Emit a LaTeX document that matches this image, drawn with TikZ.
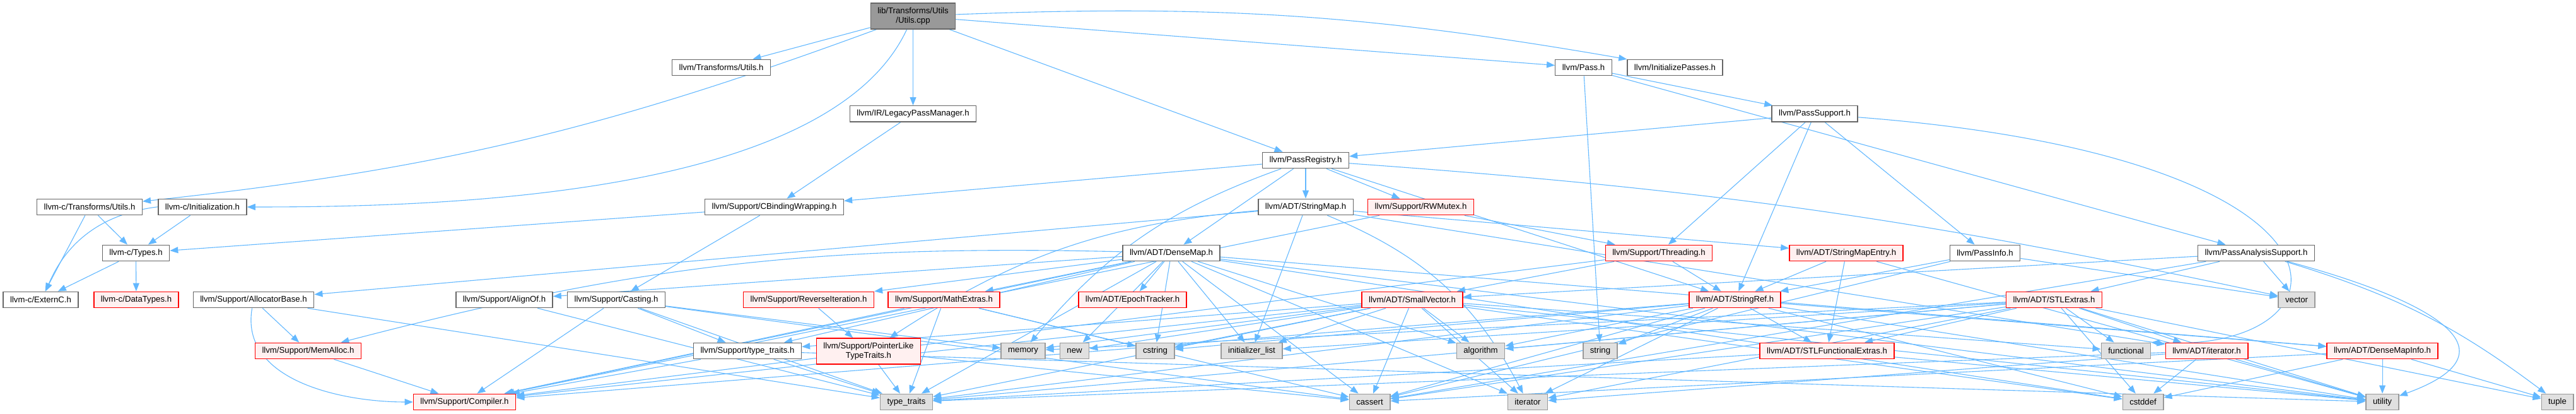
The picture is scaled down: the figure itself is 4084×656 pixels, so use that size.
\documentclass[tikz,border=0pt]{standalone}
\usepackage{fontspec}
\setmainfont{Liberation Sans}
\usetikzlibrary{arrows.meta,backgrounds}
\definecolor{link}{HTML}{63B8FF}
\definecolor{frame}{HTML}{666666}
\definecolor{redline}{HTML}{FF0000}
\definecolor{redfill}{HTML}{FFF0F0}
\definecolor{sysline}{HTML}{999999}
\definecolor{sysfill}{HTML}{E0E0E0}
\definecolor{rootfill}{HTML}{999999}
\tikzset{
  box/.style={draw=frame, line width=0.7pt, fill=white, align=center, inner xsep=5.5pt, inner ysep=2pt, minimum height=12.7pt, font=\fontsize{6.6}{7.5}\selectfont},
  redbox/.style={box, draw=redline, fill=redfill},
  sysbox/.style={box, draw=sysline, fill=sysfill},
  rootbox/.style={box, fill=rootfill, minimum height=20.5pt},
  arrow/.style={-{Triangle[length=6.5pt,width=5pt]}, line width=0.55pt, draw=link}
}
\begin{document}
\begin{tikzpicture}[x=0.5pt,y=0.5pt]
\useasboundingbox (0,0) rectangle (4084,-656);
\node[rootbox] (root) at (1447.5,-25.5) {lib/Transforms/Utils\\/Utils.cpp};
\node[box] (tuh) at (1143.5,-107) {llvm/Transforms/Utils.h};
\node[box] (pass) at (2510.5,-107) {llvm/Pass.h};
\node[box] (initp) at (2655.5,-107) {llvm/InitializePasses.h};
\node[box] (lpm) at (1447.5,-180.5) {llvm/IR/LegacyPassManager.h};
\node[box] (psup) at (2877,-180.5) {llvm/PassSupport.h};
\node[box] (preg) at (2070,-254) {llvm/PassRegistry.h};
\node[box] (ctu) at (142,-328) {llvm-c/Transforms/Utils.h};
\node[box] (cinit) at (321,-328) {llvm-c/Initialization.h};
\node[box] (cbw) at (1227.5,-328) {llvm/Support/CBindingWrapping.h};
\node[box] (smap) at (2070,-328) {llvm/ADT/StringMap.h};
\node[redbox] (rwm) at (2252.5,-328) {llvm/Support/RWMutex.h};
\node[box] (ctypes) at (215.5,-401) {llvm-c/Types.h};
\node[box] (dmap) at (1857,-401) {llvm/ADT/DenseMap.h};
\node[redbox] (thr) at (2630,-401) {llvm/Support/Threading.h};
\node[redbox] (sme) at (2927,-401) {llvm/ADT/StringMapEntry.h};
\node[box] (pinfo) at (3147,-401) {llvm/PassInfo.h};
\node[box] (pas) at (3577,-401) {llvm/PassAnalysisSupport.h};
\node[box] (extc) at (64.5,-475) {llvm-c/ExternC.h};
\node[redbox] (dtypes) at (216,-475) {llvm-c/DataTypes.h};
\node[box] (alloc) at (402,-475) {llvm/Support/AllocatorBase.h};
\node[box] (align) at (799.5,-475) {llvm/Support/AlignOf.h};
\node[box] (cast) at (977,-475) {llvm/Support/Casting.h};
\node[redbox] (rev) at (1282,-475) {llvm/Support/ReverseIteration.h};
\node[redbox] (mathx) at (1496.5,-475) {llvm/Support/MathExtras.h};
\node[redbox] (epoch) at (1795.5,-475) {llvm/ADT/EpochTracker.h};
\node[redbox] (svec) at (2239,-475) {llvm/ADT/SmallVector.h};
\node[redbox] (sref) at (2750.5,-475) {llvm/ADT/StringRef.h};
\node[redbox] (stlx) at (3256.5,-475) {llvm/ADT/STLExtras.h};
\node[sysbox] (vec) at (3641,-475) {vector};
\node[redbox] (memal) at (488.5,-556) {llvm/Support/MemAlloc.h};
\node[box] (tt) at (1185,-556) {llvm/Support/type\_traits.h};
\node[redbox, minimum height=20.5pt] (plt) at (1377,-556.5) {llvm/Support/PointerLike\\TypeTraits.h};
\node[sysbox] (mem) at (1622,-556) {memory};
\node[sysbox] (new) at (1703.5,-556) {new};
\node[sysbox] (cstr) at (1831.5,-556) {cstring};
\node[sysbox] (ilist) at (1984.5,-556) {initializer\_list};
\node[sysbox] (algo) at (2347.5,-556) {algorithm};
\node[sysbox] (str) at (2537,-556) {string};
\node[redbox] (sfx) at (2896.5,-556) {llvm/ADT/STLFunctionalExtras.h};
\node[sysbox] (func) at (3370.5,-556) {functional};
\node[redbox] (itrh) at (3498.5,-556) {llvm/ADT/iterator.h};
\node[redbox] (dmi) at (3777,-556) {llvm/ADT/DenseMapInfo.h};
\node[redbox] (comp) at (736.5,-637) {llvm/Support/Compiler.h};
\node[sysbox] (stt) at (1437,-637) {type\_traits};
\node[sysbox] (cas) at (2171.5,-637) {cassert};
\node[sysbox] (iter) at (2422,-637) {iterator};
\node[sysbox] (cdef) at (3397.5,-637) {cstddef};
\node[sysbox] (util) at (3777,-637) {utility};
\node[sysbox] (tup) at (4054.5,-637) {tuple};
\begin{scope}[on background layer]
\draw[arrow] (root)--(tuh); \draw[arrow] (root) to[bend left=7] (ctu); \draw[arrow] (root) to[out=-115,in=0,looseness=0.7] (cinit);
\draw[arrow] (root)--(lpm); \draw[arrow] (root)--(preg); \draw[arrow] (root)--(pass); \draw[arrow] (root) to[bend left=6] (initp);
\draw[arrow] (ctu)--(extc); \draw[arrow] (ctu)--(ctypes); \draw[arrow] (cinit) to[bend right=30] (extc); \draw[arrow] (cinit)--(ctypes);
\draw[arrow] (ctypes)--(extc); \draw[arrow] (ctypes)--(dtypes);
\draw[arrow] (lpm)--(cbw);
\draw[arrow] (pass)--(pas); \draw[arrow] (pass)--(psup); \draw[arrow] (pass)--(str);
\draw[arrow] (psup)--(preg); \draw[arrow] (psup)--(thr); \draw[arrow] (psup)--(sref); \draw[arrow] (psup)--(pinfo);
\draw[arrow] (psup) .. controls (3780,-250) and (3740,-560) .. (func.north east);
\draw[arrow] (preg)--(cbw); \draw[arrow] (preg)--(dmap); \draw[arrow] (preg)--(smap); \draw[arrow] (preg)--(rwm);
\draw[arrow] (preg)--(sref); \draw[arrow] (preg) to[bend right=15] (mem); \draw[arrow] (preg) to[bend left=4] (vec);
\draw[arrow] (cbw)--(ctypes); \draw[arrow] (cbw)--(cast);
\draw[arrow] (smap)--(sme); \draw[arrow] (smap)--(itrh); \draw[arrow] (smap)--(alloc); \draw[arrow] (smap) to[bend right=14] (plt);
\draw[arrow] (smap)--(ilist); \draw[arrow] (smap) to[bend left=20] (iter);
\draw[arrow] (rwm)--(comp); \draw[arrow] (rwm)--(thr);
\draw[arrow] (dmap)--(dmi); \draw[arrow] (dmap)--(epoch); \draw[arrow] (dmap)--(align); \draw[arrow] (dmap)--(comp);
\draw[arrow] (dmap)--(mathx); \draw[arrow] (dmap) to[bend right=8] (memal); \draw[arrow] (dmap)--(rev); \draw[arrow] (dmap)--(tt);
\draw[arrow] (dmap)--(algo); \draw[arrow] (dmap)--(cas); \draw[arrow] (dmap)--(cdef); \draw[arrow] (dmap)--(cstr);
\draw[arrow] (dmap)--(ilist); \draw[arrow] (dmap)--(iter); \draw[arrow] (dmap)--(new); \draw[arrow] (dmap)--(stt); \draw[arrow] (dmap)--(util);
\draw[arrow] (thr)--(comp); \draw[arrow] (thr)--(sref); \draw[arrow] (thr)--(svec);
\draw[arrow] (sme)--(sref); \draw[arrow] (sme)--(sfx); \draw[arrow] (sme)--(util);
\draw[arrow] (pinfo)--(sref); \draw[arrow] (pinfo)--(cas); \draw[arrow] (pinfo)--(vec);
\draw[arrow] (pas)--(stlx); \draw[arrow] (pas)--(svec); \draw[arrow] (pas)--(cas); \draw[arrow] (pas) to[bend left=10] (tup);
\draw[arrow] (pas) to[out=-15,in=20,looseness=2] (util); \draw[arrow] (pas)--(vec);
\draw[arrow] (alloc) to[out=-100,in=180] (comp); \draw[arrow] (alloc)--(memal); \draw[arrow] (alloc)--(stt);
\draw[arrow] (align)--(stt);
\draw[arrow] (cast)--(comp); \draw[arrow] (cast)--(tt); \draw[arrow] (cast)--(cas); \draw[arrow] (cast)--(mem); \draw[arrow] (cast)--(stt);
\draw[arrow] (rev)--(plt);
\draw[arrow] (mathx)--(comp); \draw[arrow] (mathx)--(cas); \draw[arrow] (mathx)--(cstr); \draw[arrow] (mathx)--(stt);
\draw[arrow] (svec)--(comp); \draw[arrow] (svec)--(tt); \draw[arrow] (svec)--(algo); \draw[arrow] (svec)--(cas);
\draw[arrow] (svec)--(cdef); \draw[arrow] (svec)--(cstr); \draw[arrow] (svec)--(func); \draw[arrow] (svec)--(ilist);
\draw[arrow] (svec)--(iter); \draw[arrow] (svec)--(mem); \draw[arrow] (svec)--(new); \draw[arrow] (svec)--(stt); \draw[arrow] (svec)--(util);
\draw[arrow] (sref)--(dmi); \draw[arrow] (sref)--(sfx); \draw[arrow] (sref)--(comp); \draw[arrow] (sref)--(algo);
\draw[arrow] (sref)--(cas); \draw[arrow] (sref)--(cdef); \draw[arrow] (sref)--(cstr); \draw[arrow] (sref)--(iter);
\draw[arrow] (sref)--(str); \draw[arrow] (sref)--(stt); \draw[arrow] (sref)--(util);
\draw[arrow] (stlx)--(sfx); \draw[arrow] (stlx)--(itrh); \draw[arrow] (stlx)--(algo); \draw[arrow] (stlx)--(cas);
\draw[arrow] (stlx)--(cdef); \draw[arrow] (stlx)--(func); \draw[arrow] (stlx)--(ilist); \draw[arrow] (stlx)--(iter);
\draw[arrow] (stlx)--(mem); \draw[arrow] (stlx)--(tup); \draw[arrow] (stlx)--(stt); \draw[arrow] (stlx)--(util);
\draw[arrow] (memal)--(comp);
\draw[arrow] (tt)--(comp); \draw[arrow] (tt)--(stt); \draw[arrow] (tt)--(util);
\draw[arrow] (plt)--(stt); \draw[arrow] (plt)--(cas);
\draw[arrow] (sfx)--(stt); \draw[arrow] (sfx)--(util);
\draw[arrow] (itrh)--(cdef); \draw[arrow] (itrh)--(util); \draw[arrow] (itrh)--(iter); \draw[arrow] (itrh)--(stt);
\draw[arrow] (dmi)--(util); \draw[arrow] (dmi)--(tup); \draw[arrow] (dmi)--(cdef); \draw[arrow] (dmi)--(cas);
\end{scope}
\end{tikzpicture}
\end{document}
